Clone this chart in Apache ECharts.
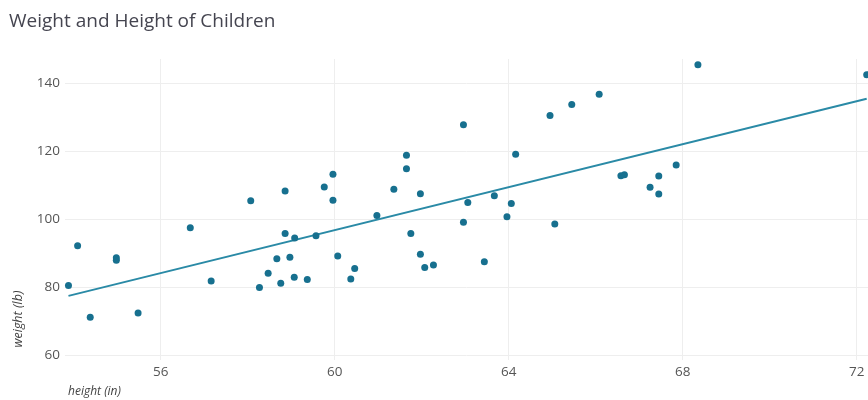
<!DOCTYPE html>
<html>
<head>
<meta charset="utf-8">
<style>
  html, body { margin: 0; padding: 0; background: #fff; }
  #chart { width: 868px; height: 400px; }
</style>
<script src="https://cdn.jsdelivr.net/npm/echarts@6/dist/echarts.min.js"></script>
</head>
<body>
<div id="chart"></div>
<script>
// height (in) of each child
var heights = [
  53.88, 54.09, 54.38, 54.98, 54.98, 55.48, 56.68, 57.16, 58.07, 58.27,
  58.47, 58.67, 58.76, 58.86, 58.86, 58.97, 59.07, 59.08, 59.37, 59.57,
  59.76, 59.96, 59.96, 60.07, 60.37, 60.46, 60.97, 61.36, 61.65, 61.65,
  61.75, 61.97, 61.97, 62.07, 62.27, 62.96, 62.96, 63.06, 63.44, 63.67,
  63.96, 64.06, 64.16, 64.95, 65.06, 65.45, 66.08, 66.58, 66.66, 67.25,
  67.45, 67.45, 67.85, 68.35, 72.23
];
// weight (lb) of each child
var weights = [
  80.4, 92.1, 71.1, 88.6, 87.8, 72.3, 97.4, 81.7, 105.3, 79.8,
  84.0, 88.3, 81.1, 108.2, 95.7, 88.7, 82.8, 94.4, 82.2, 95.0,
  109.4, 113.1, 105.5, 89.1, 82.3, 85.4, 101.0, 108.7, 118.7, 114.7,
  95.7, 107.4, 89.6, 85.7, 86.4, 127.7, 99.0, 104.8, 87.4, 106.8,
  100.6, 104.5, 119.0, 130.4, 98.5, 133.6, 136.6, 112.7, 113.0, 109.3,
  112.6, 107.3, 115.8, 145.3, 142.4
];
// fitted line end points
var fitX = [53.88, 72.23];
var fitY = [77.35, 135.3];

var xTicks = [56, 60, 64, 68, 72];
var yTicks = [60, 80, 100, 120, 140];

(function() {
  var myChart = echarts.init(document.getElementById("chart"));

  var points = [];
  for (var i = 0; i < heights.length; i++) {
    points.push([heights[i], weights[i]]);
  }
  var fit = [];
  for (var j = 0; j < fitX.length; j++) {
    fit.push([fitX[j], fitY[j]]);
  }

  var font = "'Open Sans', 'Noto Sans', sans-serif";

  var option = {
    animation: false,
    textStyle: { fontFamily: font },
    title: {
      text: "Weight and Height of Children",
      left: 4,
      top: 7,
      textStyle: { fontFamily: font, fontSize: 19, fontWeight: "normal", color: "#454550" }
    },
    grid: { left: 65, right: 0, top: 59, bottom: 40 },
    xAxis: {
      type: "value",
      min: 53.8,
      max: 72.26,
      axisLine: { show: false },
      axisTick: { show: false, customValues: xTicks },
      axisLabel: { customValues: xTicks, color: "#555", fontSize: 13.5, margin: 5, fontFamily: font },
      splitLine: { show: true, lineStyle: { color: "#eeeeee", width: 1 } }
    },
    yAxis: {
      type: "value",
      min: 58.5,
      max: 147,
      axisLine: { show: false },
      axisTick: { show: false, customValues: yTicks },
      axisLabel: { customValues: yTicks, color: "#555", fontSize: 13.5, margin: 5, fontFamily: font },
      splitLine: { show: true, lineStyle: { color: "#eeeeee", width: 1 } }
    },
    graphic: [
      {
        type: "text",
        x: 68,
        y: 392,
        style: { text: "height (in)", font: "italic 12px " + font, fill: "#444", verticalAlign: "middle" }
      },
      {
        type: "text",
        x: 18,
        y: 319,
        rotation: Math.PI / 2,
        style: { text: "weight (lb)", font: "italic 12.5px " + font, fill: "#444", align: "center", verticalAlign: "middle" }
      }
    ],
    series: [
      {
        type: "line",
        data: fit,
        symbol: "none",
        lineStyle: { color: "#2a8aa6", width: 2 },
        z: 2
      },
      {
        type: "scatter",
        data: points,
        symbol: "circle",
        symbolSize: 7,
        itemStyle: { color: "#17708f", opacity: 1 },
        z: 3
      }
    ]
  };

  myChart.setOption(option);
})();
</script>
</body>
</html>
